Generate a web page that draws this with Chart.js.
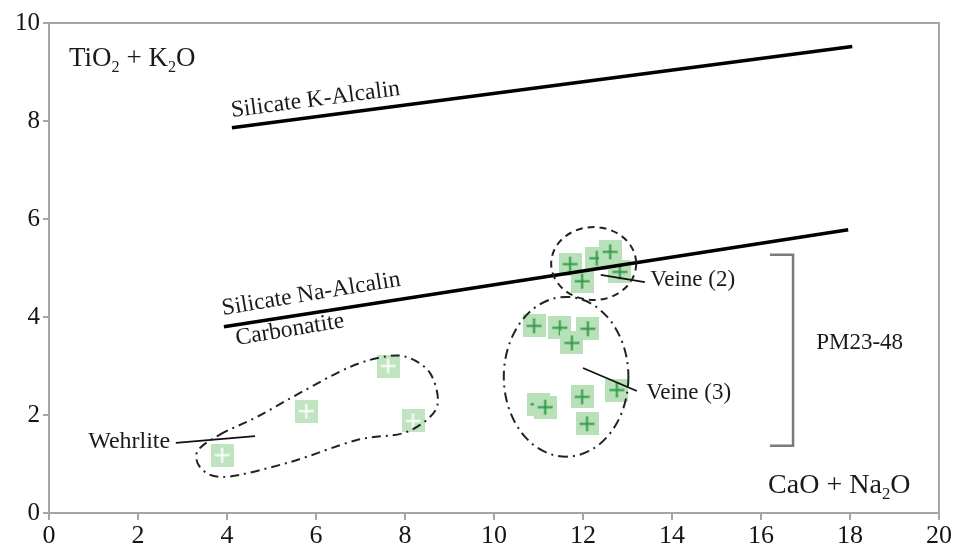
<!DOCTYPE html>
<html><head><meta charset="utf-8">
<script src="https://cdn.jsdelivr.net/npm/chart.js@4"></script>
<style>html,body{margin:0;padding:0;background:#fff}</style>
</head><body>
<canvas id="c" width="957" height="556"></canvas>
<script>
// ---- data ----
const wehrliteX = [3.89, 5.78, 7.62, 8.18];
const wehrliteY = [1.18, 2.08, 3.00, 1.88];
const veine2X = [11.71, 12.31, 12.61, 11.98, 12.83];
const veine2Y = [5.08, 5.20, 5.33, 4.73, 4.92];
const veine3X = [10.90, 11.48, 12.11, 11.75, 10.99, 11.15, 11.98, 12.76, 12.09];
const veine3Y = [3.82, 3.78, 3.76, 3.47, 2.22, 2.16, 2.37, 2.51, 1.82];

const lineKX = [4.11, 18.05];
const lineKY = [7.86, 9.52];
const lineNaX = [3.93, 17.96];
const lineNaY = [3.80, 5.78];

const leaderWehrX = [2.85, 4.63];
const leaderWehrY = [1.43, 1.57];
const leaderV2X = [12.40, 13.39];
const leaderV2Y = [4.86, 4.71];
const leaderV3X = [12.00, 13.21];
const leaderV3Y = [2.96, 2.49];

const bracketX = [16.20, 16.72, 16.72, 16.20];
const bracketY = [5.27, 5.27, 1.37, 1.37];

// enclosure outlines (data units)
const ellipseV2 = [12.24, 5.09, 0.955, 0.745]; // cx, cy, rx, ry
const ellipseV3 = [11.62, 2.78, 1.40, 1.63];
const loopX = [3.84, 4.67, 5.64, 6.76, 7.60, 8.11, 8.56, 8.74, 8.56, 7.96, 6.92, 5.42, 4.00, 3.45, 3.33];
const loopY = [1.60, 1.96, 2.45, 2.98, 3.20, 3.16, 2.86, 2.31, 1.96, 1.63, 1.49, 1.04, 0.74, 0.88, 1.25];

const xMin = 0, xMax = 20, xStep = 2;
const yMin = 0, yMax = 10, yStep = 2;

const zip = (xs, ys) => xs.map((x, i) => ({x: x, y: ys[i]}));

function pointImg(fill, cross) {
  const c = document.createElement('canvas');
  c.width = 23; c.height = 23;
  const g = c.getContext('2d');
  g.fillStyle = fill; g.fillRect(0, 0, 23, 23);
  g.strokeStyle = cross; g.lineWidth = 2;
  g.beginPath();
  g.moveTo(11.5, 4); g.lineTo(11.5, 19);
  g.moveTo(4, 11.5); g.lineTo(19, 11.5);
  g.stroke();
  return c;
}
const imgW = pointImg('#bfe4bf', '#ffffff');
const imgV = pointImg('#b9e1b9', '#2f9a46');

const SERIF = '"Liberation Serif", "Times New Roman", serif';
const AXIS = '#a6a6a6';

function lineDS(xs, ys, color, width) {
  return {type: 'scatter', showLine: true, data: zip(xs, ys), borderColor: color, borderWidth: width,
    pointRadius: 0, fill: false, order: 1, tension: 0};
}
function ptsDS(xs, ys, img) {
  return {type: 'scatter', data: zip(xs, ys), pointStyle: img, pointRadius: 11, order: 5};
}

function richText(ctx, parts, x, y, size) {
  let cx = x;
  for (const [t, sub] of parts) {
    const s = sub ? size * 0.6 : size;
    ctx.font = s + 'px ' + SERIF;
    ctx.fillText(t, cx, y + (sub ? size * 0.2 : 0));
    cx += ctx.measureText(t).width;
  }
}

const annot = {
  id: 'annot',
  afterDatasetsDraw(chart) {
    const ctx = chart.ctx, xs = chart.scales.x, ys = chart.scales.y, a = chart.chartArea;
    const px = v => xs.getPixelForValue(v), py = v => ys.getPixelForValue(v);
    ctx.save();
    // frame top/right
    ctx.strokeStyle = AXIS; ctx.lineWidth = 2;
    ctx.beginPath();
    ctx.moveTo(a.left, a.top); ctx.lineTo(a.right, a.top); ctx.lineTo(a.right, a.bottom);
    ctx.stroke();

    ctx.strokeStyle = '#222'; ctx.lineWidth = 2;
    // ellipse veine 2 (dashed)
    ctx.setLineDash([7, 5]);
    ctx.beginPath();
    ctx.ellipse(px(ellipseV2[0]), py(ellipseV2[1]), px(ellipseV2[0] + ellipseV2[2]) - px(ellipseV2[0]),
      py(ellipseV2[1]) - py(ellipseV2[1] + ellipseV2[3]), 0, 0, Math.PI * 2);
    ctx.stroke();
    // ellipse veine 3 (dash-dot)
    ctx.setLineDash([10, 5, 2, 5]);
    ctx.beginPath();
    ctx.ellipse(px(ellipseV3[0]), py(ellipseV3[1]), px(ellipseV3[0] + ellipseV3[2]) - px(ellipseV3[0]),
      py(ellipseV3[1]) - py(ellipseV3[1] + ellipseV3[3]), 0, 0, Math.PI * 2);
    ctx.stroke();
    // wehrlite loop (closed Catmull-Rom)
    const P = loopX.map((x, i) => [px(x), py(loopY[i])]);
    const n = P.length;
    ctx.setLineDash([9, 5, 2, 5]);
    ctx.beginPath();
    ctx.moveTo(P[0][0], P[0][1]);
    for (let i = 0; i < n; i++) {
      const p0 = P[(i - 1 + n) % n], p1 = P[i], p2 = P[(i + 1) % n], p3 = P[(i + 2) % n];
      ctx.bezierCurveTo(p1[0] + (p2[0] - p0[0]) / 6, p1[1] + (p2[1] - p0[1]) / 6,
        p2[0] - (p3[0] - p1[0]) / 6, p2[1] - (p3[1] - p1[1]) / 6, p2[0], p2[1]);
    }
    ctx.closePath();
    ctx.stroke();
    ctx.setLineDash([]);
    ctx.restore();
  },
  afterDraw(chart) {
    const ctx = chart.ctx, xs = chart.scales.x, ys = chart.scales.y;
    const px = v => xs.getPixelForValue(v), py = v => ys.getPixelForValue(v);
    ctx.save();
    ctx.fillStyle = '#1a1a1a';
    ctx.textBaseline = 'alphabetic';
    ctx.textAlign = 'left';
    richText(ctx, [['TiO', false], ['2', true], [' + K', false], ['2', true], ['O', false]], px(0.45), py(9.12), 27);
    richText(ctx, [['CaO + Na', false], ['2', true], ['O', false]], px(16.16), py(0.41), 28);
    ctx.font = '23px ' + SERIF;
    ctx.fillText('PM23-48', px(17.24), py(3.35));
    ctx.fillText('Veine (2)', px(13.51), py(4.63));
    ctx.fillText('Veine (3)', px(13.42), py(2.33));
    ctx.font = '24px ' + SERIF;
    ctx.fillText('Wehrlite', px(0.88), py(1.33));
    const ang = (xa, ya) => Math.atan2(py(ya[1]) - py(ya[0]), px(xa[1]) - px(xa[0]));
    const rot = (t, x, y, a, size) => {
      ctx.save(); ctx.translate(px(x), py(y)); ctx.rotate(a);
      ctx.font = size + 'px ' + SERIF; ctx.fillText(t, 0, 0); ctx.restore();
    };
    rot('Silicate K-Alcalin', 4.11, 8.08, ang(lineKX, lineKY), 23.5);
    rot('Silicate Na-Alcalin', 3.91, 4.04, ang(lineNaX, lineNaY) - 0.01, 23.5);
    rot('Carbonatite', 4.22, 3.43, ang(lineNaX, lineNaY) - 0.01, 23.5);
    ctx.restore();
  }
};

new Chart(document.getElementById('c'), {
  type: 'scatter',
  data: {
    datasets: [
      ptsDS(wehrliteX, wehrliteY, imgW),
      ptsDS(veine2X, veine2Y, imgV),
      ptsDS(veine3X, veine3Y, imgV),
      lineDS(lineKX, lineKY, '#000', 3.5),
      lineDS(lineNaX, lineNaY, '#000', 3.5),
      lineDS(leaderWehrX, leaderWehrY, '#111', 1.8),
      lineDS(leaderV2X, leaderV2Y, '#111', 1.8),
      lineDS(leaderV3X, leaderV3Y, '#111', 1.8),
      lineDS(bracketX, bracketY, '#7a7a7a', 2.5)
    ]
  },
  options: {
    responsive: false, animation: false, events: [],
    layout: {padding: {top: 23, right: 18, left: 0, bottom: 0}},
    plugins: {legend: {display: false}, tooltip: {enabled: false}},
    scales: {
      x: {
        type: 'linear', min: xMin, max: xMax,
        ticks: {stepSize: xStep, maxRotation: 0, padding: 1, color: '#151515', font: {family: SERIF, size: 26}},
        grid: {drawOnChartArea: false, drawTicks: true, tickLength: 7, color: AXIS, lineWidth: 2},
        border: {display: true, color: AXIS, width: 2},
        afterFit(s) { s.height = 43; s.paddingLeft = 0; s.paddingRight = 0; }
      },
      y: {
        type: 'linear', min: yMin, max: yMax,
        ticks: {stepSize: yStep, padding: 3, color: '#151515', font: {family: SERIF, size: 25}},
        grid: {drawOnChartArea: false, drawTicks: true, tickLength: 6, color: AXIS, lineWidth: 2},
        border: {display: true, color: AXIS, width: 2},
        afterFit(s) { s.width = 49; s.paddingTop = 0; s.paddingBottom = 0; }
      }
    }
  },
  plugins: [annot]
});
</script>
</body></html>
